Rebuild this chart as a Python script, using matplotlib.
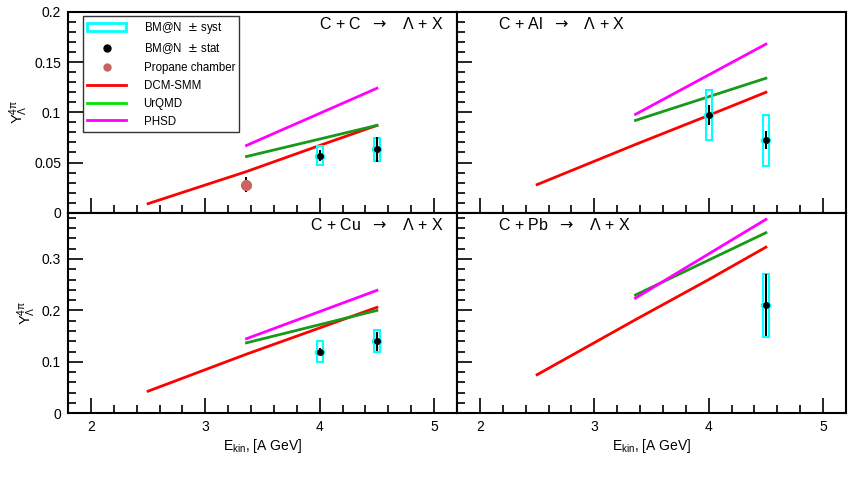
import matplotlib
matplotlib.use("Agg")
import matplotlib.pyplot as plt
from matplotlib.lines import Line2D
from matplotlib.patches import Rectangle
from matplotlib.ticker import MultipleLocator

plt.rcParams['font.family'] = ['Liberation Sans', 'DejaVu Sans']

reactions = ['C + C', 'C + Al', 'C + Cu', 'C + Pb']

# model curves: energies and yields
dcm_x = [2.5, 3.36, 4.0, 4.5]
dcm_y = {
    'C + C': [0.009, 0.041, 0.067, 0.087],
    'C + Al': [0.028, 0.068, 0.097, 0.120],
    'C + Cu': [0.043, 0.115, 0.166, 0.206],
    'C + Pb': [0.075, 0.182, 0.260, 0.323],
}
model_x = [3.36, 4.5]
urqmd_y = {
    'C + C': [0.056, 0.087],
    'C + Al': [0.092, 0.134],
    'C + Cu': [0.137, 0.200],
    'C + Pb': [0.230, 0.351],
}
phsd_y = {
    'C + C': [0.067, 0.124],
    'C + Al': [0.098, 0.168],
    'C + Cu': [0.145, 0.239],
    'C + Pb': [0.224, 0.377],
}

# BM@N data
bmn_x = {
    'C + C': [4.0, 4.5],
    'C + Al': [4.0, 4.5],
    'C + Cu': [4.0, 4.5],
    'C + Pb': [4.5],
}
bmn_y = {
    'C + C': [0.057, 0.063],
    'C + Al': [0.097, 0.072],
    'C + Cu': [0.120, 0.140],
    'C + Pb': [0.210],
}
bmn_stat = {
    'C + C': [0.005, 0.012],
    'C + Al': [0.010, 0.009],
    'C + Cu': [0.007, 0.018],
    'C + Pb': [0.060],
}
bmn_syst = {
    'C + C': [0.0095, 0.011],
    'C + Al': [0.025, 0.025],
    'C + Cu': [0.020, 0.021],
    'C + Pb': [0.061],
}

# propane chamber point (C + C)
propane_x = [3.36]
propane_y = [0.028]
propane_err = [0.0075]

ymax = {'C + C': 0.2, 'C + Al': 0.2, 'C + Cu': 0.39, 'C + Pb': 0.39}

fig = plt.figure(figsize=(8.53, 4.87), dpi=100)
W, H = 853, 487
x0, x1, xm = 68, 846, 457
ytop, ymid, ybot = 12, 212.7, 413.3
rects = [
    (x0, ymid, xm - x0, ymid - ytop),
    (xm, ymid, x1 - xm, ymid - ytop),
    (x0, ybot, xm - x0, ybot - ymid),
    (xm, ybot, x1 - xm, ybot - ymid),
]

red = '#ff0000'
green = '#179a17'
magenta = '#ff00ff'
cyan = '#00ffff'
propane_col = '#cc6161'

for i, r in enumerate(reactions):
    px, py, pw, ph = rects[i]
    ax = fig.add_axes([px / W, 1 - py / H, pw / W, ph / H])
    ax.set_xlim(1.8, 5.2)
    ax.set_ylim(0, ymax[r])

    ax.plot(dcm_x, dcm_y[r], color=red, lw=2, zorder=3)
    ax.plot(model_x, urqmd_y[r], color=green, lw=2, zorder=3)
    ax.plot(model_x, phsd_y[r], color=magenta, lw=2, zorder=3)

    for xv, yv, sv in zip(bmn_x[r], bmn_y[r], bmn_syst[r]):
        ax.add_patch(Rectangle((xv - 0.025, yv - sv), 0.05, 2 * sv, fill=False,
                               edgecolor=cyan, lw=1.5, zorder=4))
    ax.errorbar(bmn_x[r], bmn_y[r], xerr=0.04, fmt='none', ecolor=cyan,
                elinewidth=1, capsize=1.5, zorder=4)
    ax.errorbar(bmn_x[r], bmn_y[r], yerr=bmn_stat[r], fmt='o', color='black',
                ms=4, elinewidth=1.5, capsize=0, zorder=5)

    if r == 'C + C':
        ax.errorbar(propane_x, propane_y, yerr=propane_err, fmt='o',
                    color=propane_col, ecolor='black', ms=7, elinewidth=1.5,
                    capsize=0, zorder=5)

    ax.xaxis.set_major_locator(MultipleLocator(1))
    ax.xaxis.set_minor_locator(MultipleLocator(0.2))
    if ymax[r] < 0.3:
        ax.yaxis.set_major_locator(MultipleLocator(0.05))
        ax.yaxis.set_minor_locator(MultipleLocator(0.01))
    else:
        ax.yaxis.set_major_locator(MultipleLocator(0.1))
        ax.yaxis.set_minor_locator(MultipleLocator(0.02))
    ax.tick_params(which='both', direction='in', top=False, right=False,
                   labelsize=10, width=1.2, colors='black')
    ax.tick_params(which='major', length=11, pad=5)
    ax.tick_params(which='minor', length=5.5)
    for s in ax.spines.values():
        s.set_linewidth(1.5)

    ax.yaxis.set_major_formatter(plt.FuncFormatter(lambda v, p: '%g' % round(v, 3)))

    if i % 2 == 1:
        ax.tick_params(labelleft=False)
    else:
        ax.set_ylabel(r'$\mathregular{Y_{\Lambda}^{4\pi}}$', fontsize=10.5, labelpad=3)
    if i < 2:
        ax.tick_params(labelbottom=False)
    else:
        ax.set_xlabel(r'E$\mathregular{_{kin}}$, [A GeV]', fontsize=10, labelpad=2)

    label = r + r'  $\rightarrow$   ' + '\u039b + X'
    if i % 2 == 0:
        ax.text(0.965, 0.94, label, transform=ax.transAxes, ha='right', va='center',
                fontsize=11.5)
    else:
        ax.text(0.105, 0.94, label, transform=ax.transAxes, ha='left', va='center',
                fontsize=11.5)

    if i == 0:
        handles = [
            Rectangle((0, 0), 1, 1, fill=False, edgecolor=cyan, lw=2),
            Line2D([], [], ls='none', marker='o', color='black', ms=5),
            Line2D([], [], ls='none', marker='o', color=propane_col, ms=5),
            Line2D([], [], color=red, lw=2),
            Line2D([], [], color='#00e600', lw=2),
            Line2D([], [], color=magenta, lw=2),
        ]
        labels = [r'BM@N  $\pm$ syst', r'BM@N  $\pm$ stat', 'Propane chamber',
                  'DCM-SMM', 'UrQMD', 'PHSD']
        leg = ax.legend(handles, labels, loc='upper left', bbox_to_anchor=(0.0386, 0.981),
                        borderaxespad=0, fontsize=8.3, frameon=True, fancybox=False,
                        edgecolor='black', handlelength=3.4, handletextpad=1.5,
                        labelspacing=0.5, borderpad=0.35)
        leg.get_frame().set_linewidth(1)

fig.savefig('out.png', dpi=100)
